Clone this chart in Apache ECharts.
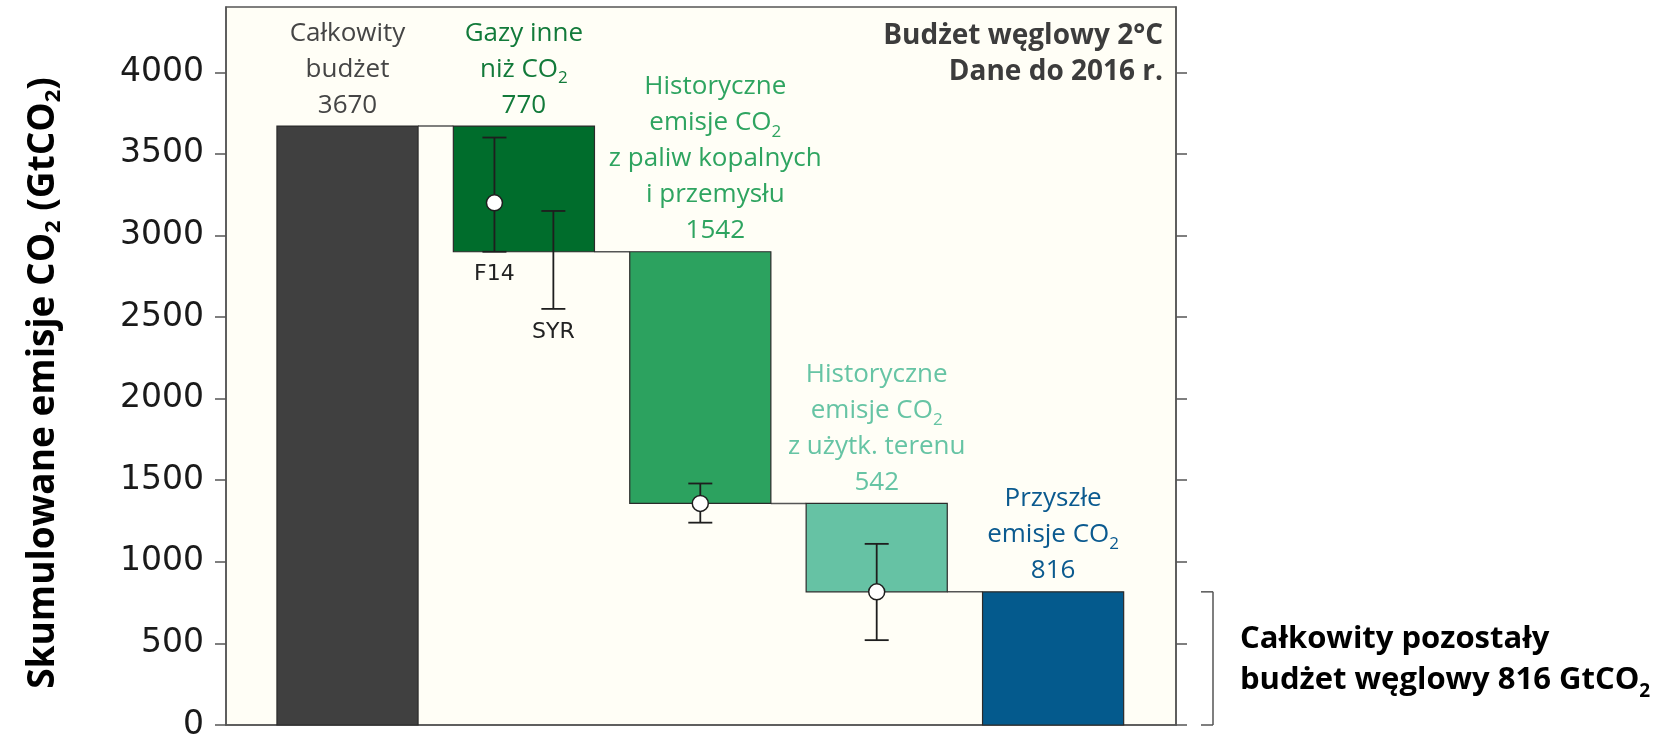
<!DOCTYPE html>
<html><head><meta charset="utf-8">
<script src="https://cdn.jsdelivr.net/npm/echarts@6/dist/echarts.min.js"></script>
<style>html,body{margin:0;padding:0;background:#fff}#c{width:1672px;height:740px}</style>
</head><body><div id="c"></div>
<script>
// ---------- DATA ----------
const categories = [
  'Całkowity\nbudżet',
  'Gazy inne\nniż CO₂',
  'Historyczne\nemisje CO₂\nz paliw kopalnych\ni przemysłu',
  'Historyczne\nemisje CO₂\nz użytk. terenu',
  'Przyszłe\nemisje CO₂'
];
const values = [3670, 770, 1542, 542, 816];
const barTypes = ['total', 'delta', 'delta', 'delta', 'total'];
const yTicks = [0, 500, 1000, 1500, 2000, 2500, 3000, 3500, 4000];
const errNames = ['F14', 'SYR', '', ''];
const errCat = [1, 1, 2, 3];
const errLow = [2900, 2550, 1240, 520];
const errHigh = [3600, 3150, 1480, 1110];
const errMid = [3200, null, 1358, 816];
const cornerNote = ['Budżet węglowy 2°C', 'Dane do 2016 r.'];
const remainingNote = ['Całkowity pozostały', 'budżet węglowy ' + values[4] + ' GtCO₂'];

// ---------- STYLE / LAYOUT ----------
const barColors = ['#404040', '#006d2c', '#2ca25f', '#66c2a4', '#045a8d'];
const labelColors = ['#454545', '#127a3a', '#2ea460', '#66c4a4', '#0b5a8f'];
const BAR_W = 0.8;
const LABEL_DX = [0, 0, 15, 0, 0];
const ERR_DX = [-0.167, 0.167, 0, 0];
const X_MIN = -0.6888, X_MAX = 4.6967;
const LABEL_FONT = 'Open Sans';

// waterfall levels computed from the values
const barLow = [], barHigh = [], levelAfter = [];
let level = 0;
values.forEach((v, i) => {
  if (barTypes[i] === 'total') { barLow.push(0); barHigh.push(v); level = v; }
  else { barHigh.push(level); level -= v; barLow.push(level); }
  levelAfter.push(level);
});

const toRich = s => s.replace(/₂/g, '{s|2}');

function renderBar(params, api) {
  const i = params.dataIndex;
  const x = api.value(0), lo = api.value(1), hi = api.value(2);
  const tl = api.coord([x - BAR_W / 2, hi]);
  const br = api.coord([x + BAR_W / 2, lo]);
  const cx = (tl[0] + br[0]) / 2;
  return { type: 'group', children: [
    { type: 'rect', shape: { x: tl[0], y: tl[1], width: br[0] - tl[0], height: br[1] - tl[1] },
      style: { fill: barColors[i], stroke: '#2b2b2b', lineWidth: 1.2 } },
    { type: 'text', x: cx + LABEL_DX[i], y: tl[1] - 3,
      style: { text: toRich(categories[i]) + '\n' + values[i], fill: labelColors[i],
        fontFamily: LABEL_FONT, fontSize: 26, align: 'center', verticalAlign: 'bottom', lineHeight: 36,
        rich: { s: { fontFamily: LABEL_FONT, fontSize: 17, lineHeight: 24, verticalAlign: 'bottom', fill: labelColors[i], color: labelColors[i] } } } }
  ]};
}

function renderConnector(params, api) {
  const i = api.value(0), lv = api.value(1);
  const a = api.coord([i + BAR_W / 2, lv]);
  const b = api.coord([i + 1 - BAR_W / 2, lv]);
  return { type: 'line', shape: { x1: a[0], y1: a[1], x2: b[0], y2: b[1] },
    style: { stroke: '#555', lineWidth: 1.5 } };
}

function renderErr(params, api) {
  const i = params.dataIndex;
  const x = api.value(0), lo = api.value(1), hi = api.value(2);
  const pLo = api.coord([x, lo]), pHi = api.coord([x, hi]);
  const hw = 12;
  const st = { stroke: '#1e1e1e', lineWidth: 1.8 };
  const ch = [
    { type: 'line', shape: { x1: pLo[0], y1: pLo[1], x2: pHi[0], y2: pHi[1] }, style: st },
    { type: 'line', shape: { x1: pHi[0] - hw, y1: pHi[1], x2: pHi[0] + hw, y2: pHi[1] }, style: st },
    { type: 'line', shape: { x1: pLo[0] - hw, y1: pLo[1], x2: pLo[0] + hw, y2: pLo[1] }, style: st }
  ];
  if (errNames[i]) ch.push({ type: 'text', x: pLo[0], y: pLo[1] + 23,
    style: { text: errNames[i], fill: '#222', fontFamily: 'DejaVu Sans', fontSize: 22, align: 'center', verticalAlign: 'middle' } });
  return { type: 'group', children: ch };
}

function renderBracket(params, api) {
  const cs = params.coordSys;
  const bx = cs.x + cs.width + 37;
  const y0 = api.coord([0, api.value(0)])[1];
  const y1 = api.coord([0, api.value(1)])[1];
  const st = { stroke: '#555', lineWidth: 1.5 };
  return { type: 'group', children: [
    { type: 'line', shape: { x1: bx, y1: y0, x2: bx, y2: y1 }, style: st },
    { type: 'line', shape: { x1: bx - 12, y1: y0, x2: bx, y2: y0 }, style: st },
    { type: 'line', shape: { x1: bx - 12, y1: y1, x2: bx, y2: y1 }, style: st }
  ]};
}

const chart = echarts.init(document.getElementById('c'), null, { renderer: 'canvas' });
const axisCommon = {
  type: 'value', min: 0, max: 4400,
  axisLine: { show: true, onZero: false, lineStyle: { color: '#555', width: 1.5 } },
  axisTick: { show: true, inside: false, length: 11, customValues: yTicks, lineStyle: { color: '#555', width: 1.5 } },
  splitLine: { show: false }
};
chart.setOption({
  animation: false,
  backgroundColor: '#ffffff',
  grid: { left: 226, top: 7, width: 950, height: 718, show: true, backgroundColor: '#fffef6',
    borderColor: '#555', borderWidth: 1.5, containLabel: false, outerBoundsMode: 'none' },
  xAxis: { type: 'value', min: X_MIN, max: X_MAX,
    axisLine: { show: true, onZero: false, lineStyle: { color: '#555', width: 1.5 } },
    axisTick: { show: false }, axisLabel: { show: false }, splitLine: { show: false } },
  yAxis: [
    Object.assign({}, axisCommon, {
      position: 'left',
      axisLabel: { show: true, customValues: yTicks, formatter: v => String(v),
        fontFamily: 'DejaVu Sans', fontSize: 33, color: '#1a1a1a', margin: 22 },
      name: '{n|Skumulowane emisje CO}{s|2}{n| (GtCO}{s|2}{n|)}',
      nameLocation: 'middle', nameRotate: 90, nameGap: 161,
      nameTextStyle: { padding: [0, 34, 0, 0], rich: {
        n: { fontFamily: LABEL_FONT, fontWeight: 'bold', fontSize: 37, color: '#000', lineHeight: 44 },
        s: { fontFamily: LABEL_FONT, fontWeight: 'bold', fontSize: 22, color: '#000', lineHeight: 30, verticalAlign: 'bottom' }
      } }
    }),
    Object.assign({}, axisCommon, { position: 'right', axisLabel: { show: false } })
  ],
  series: [
    { type: 'custom', name: 'connectors', z: 1, renderItem: renderConnector,
      data: levelAfter.slice(0, -1).map((lv, i) => [i, lv]) },
    { type: 'custom', name: 'bars', z: 2, renderItem: renderBar,
      data: values.map((v, i) => [i, barLow[i], barHigh[i]]) },
    { type: 'custom', name: 'errors', z: 3, renderItem: renderErr,
      data: errCat.map((c, i) => [c + ERR_DX[i], errLow[i], errHigh[i]]) },
    { type: 'scatter', name: 'central', z: 4, symbol: 'circle', symbolSize: 16,
      itemStyle: { color: '#ffffff', borderColor: '#1e1e1e', borderWidth: 1.5, opacity: 1 },
      data: errCat.map((c, i) => [c + ERR_DX[i], errMid[i]]).filter(d => d[1] !== null) },
    { type: 'custom', name: 'bracket', z: 1, clip: false, renderItem: renderBracket,
      data: [[0, barHigh[4]]] }
  ],
  graphic: [
    { type: 'text', x: 1163, y: 54, z: 10, style: { text: cornerNote.join('\n'), fill: '#3c3c3c',
      fontFamily: LABEL_FONT, fontWeight: 'bold', fontSize: 28, align: 'right', textAlign: 'right',
      verticalAlign: 'middle', textVerticalAlign: 'middle', lineHeight: 36 } },
    { type: 'text', x: 1240, y: 660, z: 10, style: { text: toRich(remainingNote.join('\n')), fill: '#000',
      fontFamily: LABEL_FONT, fontWeight: 'bold', fontSize: 31, align: 'left', textAlign: 'left',
      verticalAlign: 'middle', textVerticalAlign: 'middle', lineHeight: 41,
      rich: { s: { fontFamily: LABEL_FONT, fontWeight: 'bold', fontSize: 19, lineHeight: 28, verticalAlign: 'bottom', fill: '#000' } } } }
  ]
});
</script></body></html>
